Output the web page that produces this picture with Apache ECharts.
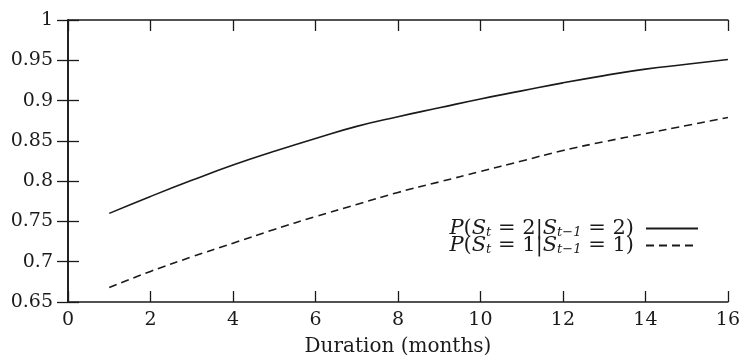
<!DOCTYPE html>
<html>
<head>
<meta charset="utf-8">
<script src="https://cdn.jsdelivr.net/npm/echarts@6/dist/echarts.min.js"></script>
<style>
  html, body { margin: 0; padding: 0; background: #fff; }
  #chart { width: 743px; height: 362px; }
</style>
</head>
<body>
<div id="chart"></div>
<script>
const durations = [1, 2, 3, 4, 5, 6, 7, 8, 9, 10, 11, 12, 13, 14, 15, 16];
const stay2 = [0.760, 0.781, 0.801, 0.820, 0.837, 0.853, 0.868, 0.880, 0.891, 0.902, 0.912, 0.922, 0.931, 0.939, 0.945, 0.951];
const stay1 = [0.668, 0.688, 0.706, 0.723, 0.740, 0.756, 0.771, 0.786, 0.799, 0.812, 0.825, 0.838, 0.849, 0.859, 0.869, 0.879];
const seriesNames = ['P(S_t=2|S_t-1=2)', 'P(S_t=1|S_t-1=1)'];
const legendLabels = {
  'P(S_t=2|S_t-1=2)': '{i|P}({i|S}{sub|t} = 2|{i|S}{sub|t−1} = 2)',
  'P(S_t=1|S_t-1=1)': '{i|P}({i|S}{sub|t} = 1|{i|S}{sub|t−1} = 1)',
};

const ink = '#1a1a1a';
const font = 'DejaVu Serif';

const chart = echarts.init(document.getElementById('chart'));

const tickStyle = { show: true, inside: true, length: 11, lineStyle: { color: ink, width: 1.3 } };
const lineStyle = { color: ink, width: 1.6 };

chart.setOption({
  animation: false,
  grid: { left: 68, right: 15, top: 20, bottom: 57 },
  xAxis: [{
    type: 'value', min: 0, max: 16, interval: 2,
    name: 'Duration (months)', nameLocation: 'middle', nameGap: 35,
    nameTextStyle: { color: ink, fontFamily: font, fontSize: 20 },
    axisLine: { lineStyle },
    axisTick: tickStyle,
    axisLabel: { color: ink, fontFamily: font, fontSize: 19, margin: 9 },
    splitLine: { show: false },
  }, {
    type: 'value', min: 0, max: 16, interval: 2, position: 'top',
    axisLine: { lineStyle },
    axisTick: tickStyle,
    axisLabel: { show: false },
    splitLine: { show: false },
  }],
  yAxis: [{
    type: 'value', min: 0.65, max: 1, interval: 0.05,
    axisLine: { show: true, lineStyle },
    axisTick: tickStyle,
    axisLabel: {
      color: ink, fontFamily: font, fontSize: 19, margin: 15,
      formatter: v => String(+v.toFixed(2)),
    },
    splitLine: { show: false },
  }, {
    type: 'value', min: 0.65, max: 1, interval: 0.05, position: 'right',
    axisLine: { show: true, lineStyle },
    axisTick: tickStyle,
    axisLabel: { show: false },
    splitLine: { show: false },
  }],
  legend: {
    orient: 'vertical', right: 39, top: 213, itemGap: -4,
    itemWidth: 52, itemHeight: 14, align: 'right',
    data: seriesNames,
    itemStyle: { opacity: 0 },
    formatter: name => legendLabels[name],
    textStyle: {
      color: ink, fontFamily: font, fontSize: 21, padding: [0, 7, 0, 0],
      rich: {
        i: { fontStyle: 'italic', fontFamily: font, fontSize: 21, color: ink },
        sub: { fontStyle: 'italic', fontFamily: font, fontSize: 13, color: ink, verticalAlign: 'bottom', padding: [8, 0, 0, 0] },
      },
    },
  },
  series: [{
    name: seriesNames[0], type: 'line', symbol: 'none', smooth: true,
    data: durations.map((d, i) => [d, stay2[i]]),
    lineStyle: { color: ink, width: 1.6, type: 'solid' },
    itemStyle: { color: ink },
  }, {
    name: seriesNames[1], type: 'line', symbol: 'none', smooth: true,
    data: durations.map((d, i) => [d, stay1[i]]),
    lineStyle: { color: ink, width: 1.6, type: [8, 5] },
    itemStyle: { color: ink },
  }],
});
</script>
</body>
</html>
